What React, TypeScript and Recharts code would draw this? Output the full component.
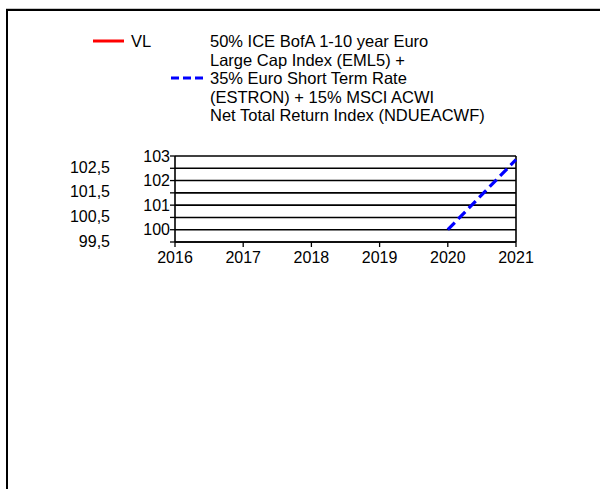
import React from 'react';
import { LineChart, Line, XAxis, YAxis, CartesianGrid, ReferenceLine } from 'recharts';

const years = [2016, 2017, 2018, 2019, 2020, 2021];
const vl: (number | null)[] = [null, null, null, null, null, null];
const benchmark: (number | null)[] = [null, null, null, null, 100, 102.85];

const yTicks = [99.5, 100, 100.5, 101, 101.5, 102, 102.5, 103];

const benchName =
  '50% ICE BofA 1-10 year Euro Large Cap Index (EML5) + 35% Euro Short Term Rate (ESTRON) + 15% MSCI ACWI Net Total Return Index (NDUEACWF)';
const benchLines = [
  '50% ICE BofA 1-10 year Euro',
  'Large Cap Index (EML5) +',
  '35% Euro Short Term Rate',
  '(ESTRON) + 15% MSCI ACWI',
  'Net Total Return Index (NDUEACWF)',
];

const data = years.map((y, i) => ({ year: y, vl: vl[i], bench: benchmark[i] }));

const font = '"Liberation Sans", Arial, sans-serif';
const fs = 16;

// integer values next to the axis, half values as a second column further left
function YTick(props: any) {
  const { x, y, payload } = props;
  const v: number = payload.value;
  if (Number.isInteger(v)) {
    return (
      <text x={x} y={y} dy="0.35em" textAnchor="end" fontSize={fs} fontFamily={font} fill="#000">
        {v}
      </text>
    );
  }
  return (
    <text x={x - 60} y={y - 1} dy="0.35em" textAnchor="end" fontSize={fs} fontFamily={font} fill="#000">
      {String(v).replace('.', ',')}
    </text>
  );
}

export default function App() {
  return (
    <div style={{ position: 'absolute', left: 0, top: 0, width: 600, height: 489, overflow: 'hidden', background: '#fff', fontFamily: font }}>
      <div
        style={{
          position: 'absolute',
          left: 6,
          top: 9,
          width: 700,
          height: 600,
          borderTop: '2px solid #000',
          borderLeft: '2px solid #000',
          boxShadow: '0 -1px 0 #c8c8c8',
        }}
      />

      {/* legend */}
      <svg style={{ position: 'absolute', left: 0, top: 0 }} width={600} height={130}>
        <line x1={93} x2={124} y1={41} y2={41} stroke="#ff0000" strokeWidth={3} />
        <text x={131} y={47} fontSize={16.5} fontFamily={font} fill="#000">VL</text>
        <line x1={171} x2={203} y1={78} y2={78} stroke="#0000ff" strokeWidth={3} strokeDasharray="8 4" />
        {benchLines.map((t, i) => (
          <text key={i} x={210} y={47 + i * 18.5} fontSize={16.5} fontFamily={font} fill="#000">
            {t}
          </text>
        ))}
      </svg>

      <LineChart
        width={600}
        height={489}
        data={data}
        margin={{ top: 156, right: 84, left: 50, bottom: 217 }}
        style={{ position: 'absolute', left: 0, top: 0 }}
      >
        <CartesianGrid horizontal vertical={false} stroke="#000" strokeWidth={1.6} yAxisId="y" />
        <XAxis
          dataKey="year"
          type="number"
          domain={[2016, 2021]}
          ticks={years}
          height={30}
          tickSize={5}
          tickMargin={5}
          stroke="#000"
          tick={{ fill: '#000', fontSize: fs, fontFamily: font }}
          axisLine={{ stroke: '#000', strokeWidth: 1.6 }}
          tickLine={{ stroke: '#000', strokeWidth: 1.3 }}
        />
        <YAxis
          yAxisId="y"
          orientation="left"
          type="number"
          domain={[99.5, 103]}
          ticks={yTicks}
          interval={0}
          width={125}
          tickSize={5}
          tickMargin={0}
          axisLine={{ stroke: '#000', strokeWidth: 1.6 }}
          tickLine={{ stroke: '#000', strokeWidth: 1.3 }}
          tick={<YTick />}
        />
        <ReferenceLine yAxisId="y" x={2021} stroke="#000" strokeWidth={1.6} />
        <Line
          yAxisId="y"
          dataKey="vl"
          name="VL"
          stroke="#ff0000"
          strokeWidth={3}
          dot={false}
          isAnimationActive={false}
        />
        <Line
          yAxisId="y"
          dataKey="bench"
          name={benchName}
          stroke="#0000ff"
          strokeWidth={3.2}
          strokeDasharray="10 5"
          dot={false}
          isAnimationActive={false}
        />
      </LineChart>
    </div>
  );
}
